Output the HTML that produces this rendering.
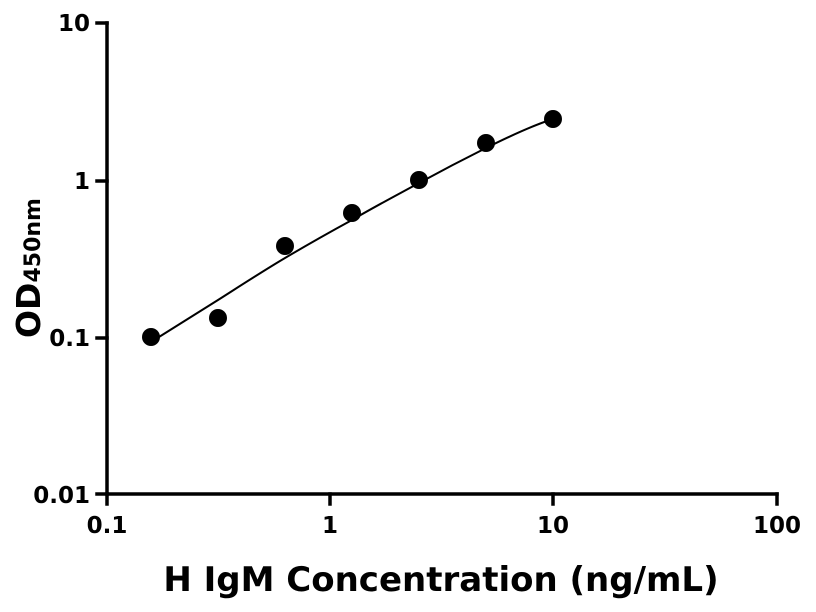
<!DOCTYPE html>
<html><head><meta charset="utf-8"><style>
body{margin:0;background:#fff;}
svg{display:block;font-family:"DejaVu Sans","Liberation Sans",sans-serif;font-weight:bold;}
</style></head><body>
<svg width="816" height="612" viewBox="0 0 816 612" xmlns="http://www.w3.org/2000/svg">
<g stroke="#000" stroke-width="3.5" fill="none" stroke-linecap="square">
<path d="M107,23 V494 H777"/>
<path d="M107,23 H97 M107,181 H97 M107,338 H97 M107,494 H97"/>
<path d="M107,494 V504 M330,494 V504 M553,494 V504 M777,494 V504"/>
</g>
<path d="M151,342 C173,328 196,314 218,300 C240,286 263,271 285,258 C307,245 330,232 352,220 C374,207 397,195 419,183 C441,171 464,159 486,148 C508,137 531,126 553,119" stroke="#000" stroke-width="2" fill="none"/>
<g fill="#000">
<circle cx="151" cy="337" r="9"/><circle cx="218" cy="318" r="9"/><circle cx="285" cy="246" r="9"/>
<circle cx="352" cy="213" r="9"/><circle cx="419" cy="180" r="9"/><circle cx="486" cy="143" r="9"/>
<circle cx="553" cy="119" r="9"/>
</g>
<g font-size="23" text-anchor="end">
<text x="90" y="31">10</text><text x="90" y="189">1</text><text x="90" y="346">0.1</text><text x="90" y="503">0.01</text>
</g>
<g font-size="23" text-anchor="middle">
<text x="107" y="533">0.1</text><text x="330" y="533">1</text><text x="553" y="533">10</text><text x="777" y="533">100</text>
</g>
<text x="441" y="591" font-size="34" text-anchor="middle">H IgM Concentration (ng/mL)</text>
<text transform="translate(40,338) rotate(-90)" font-size="33">OD<tspan font-size="22">450nm</tspan></text>
</svg>
</body></html>
